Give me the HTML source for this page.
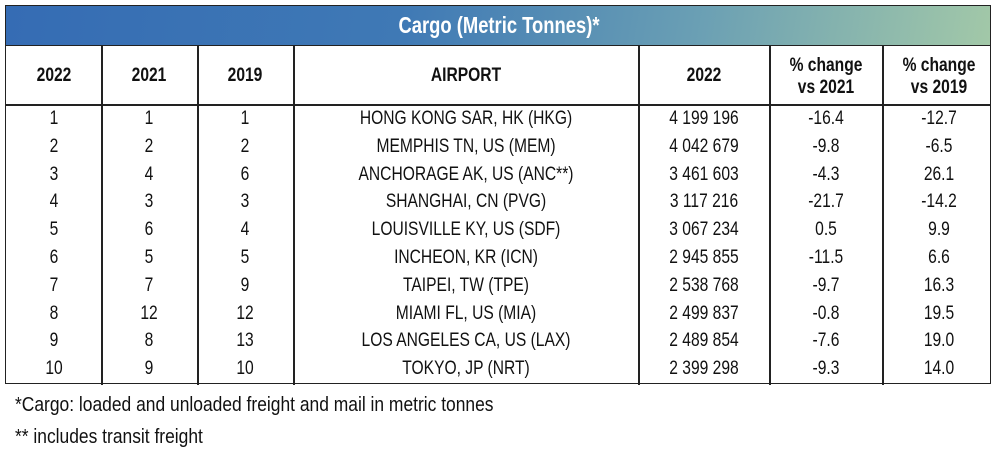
<!DOCTYPE html>
<html><head><meta charset="utf-8"><style>
body{margin:0;width:1000px;height:456px;background:#fff;font-family:"Liberation Sans",sans-serif;color:#111;position:relative;overflow:hidden}
.t{position:absolute;left:5px;top:5px;width:986px;height:379px;border:1.5px solid #222;box-sizing:border-box}
.title{position:absolute;left:0;top:0;width:100%;height:40px;background:linear-gradient(100deg,#356cb4 0%,#3f79b5 40%,#6a9fb4 70%,#a2c8a8 100%);border-bottom:1.5px solid #222;box-sizing:border-box}
.c{position:absolute;white-space:nowrap;transform:translateX(-50%) scaleX(.8);text-align:center}
.vl{position:absolute;top:40px;width:1.5px;height:58px;background:#222}
.hl{position:absolute;left:0;top:98px;width:100%;height:1.5px;background:#222}
.vl2{position:absolute;top:99px;width:1.5px;height:280px;background:#222}
.f{position:absolute;left:15px;font-size:20.5px;transform:scaleX(.85);transform-origin:left;white-space:nowrap}
</style></head><body>
<div class="t">
<div class="title"><div class="c" style="left:493px;top:6px;color:#fff;font-weight:bold;font-size:23px">Cargo (Metric Tonnes)*</div></div>
<div class="vl" style="left:95px"></div><div class="vl" style="left:191px"></div><div class="vl" style="left:287px"></div><div class="vl" style="left:632px"></div><div class="vl" style="left:763px"></div><div class="vl" style="left:876px"></div>
<div class="hl"></div>
<div class="vl2" style="left:95px"></div><div class="vl2" style="left:191px"></div><div class="vl2" style="left:287px"></div><div class="vl2" style="left:632px"></div><div class="vl2" style="left:763px"></div><div class="vl2" style="left:876px"></div>
<div style="font-weight:bold;font-size:19.5px">
<div class="c" style="left:48px;top:58px">2022</div>
<div class="c" style="left:143px;top:58px">2021</div>
<div class="c" style="left:239px;top:58px">2019</div>
<div class="c" style="left:460px;top:58px">AIRPORT</div>
<div class="c" style="left:698px;top:58px">2022</div>
<div class="c" style="left:820px;top:48px;line-height:22px">% change<br>vs 2021</div>
<div class="c" style="left:933px;top:48px;line-height:22px">% change<br>vs 2019</div>
</div>
<div id="rows" style="font-size:19.5px"></div>
</div>
<div class="f" style="top:393px">*Cargo: loaded and unloaded freight and mail in metric tonnes</div>
<div class="f" style="top:425px">** includes transit freight</div>
<script>
var d=[[1,1,1,"HONG KONG SAR, HK (HKG)","4 199 196","-16.4","-12.7"],[2,2,2,"MEMPHIS TN, US (MEM)","4 042 679","-9.8","-6.5"],[3,4,6,"ANCHORAGE AK, US (ANC**)","3 461 603","-4.3","26.1"],[4,3,3,"SHANGHAI, CN (PVG)","3 117 216","-21.7","-14.2"],[5,6,4,"LOUISVILLE KY, US (SDF)","3 067 234","0.5","9.9"],[6,5,5,"INCHEON, KR (ICN)","2 945 855","-11.5","6.6"],[7,7,9,"TAIPEI, TW (TPE)","2 538 768","-9.7","16.3"],[8,12,12,"MIAMI FL, US (MIA)","2 499 837","-0.8","19.5"],[9,8,13,"LOS ANGELES CA, US (LAX)","2 489 854","-7.6","19.0"],[10,9,10,"TOKYO, JP (NRT)","2 399 298","-9.3","14.0"]];
var xs=[48,143,239,460,698,820,933],h="";
d.forEach(function(r,i){r.forEach(function(v,j){h+='<div class="c" style="left:'+xs[j]+'px;top:'+(101+i*27.8)+'px">'+v+'</div>'})});
document.getElementById('rows').innerHTML=h;
</script>
</body></html>
